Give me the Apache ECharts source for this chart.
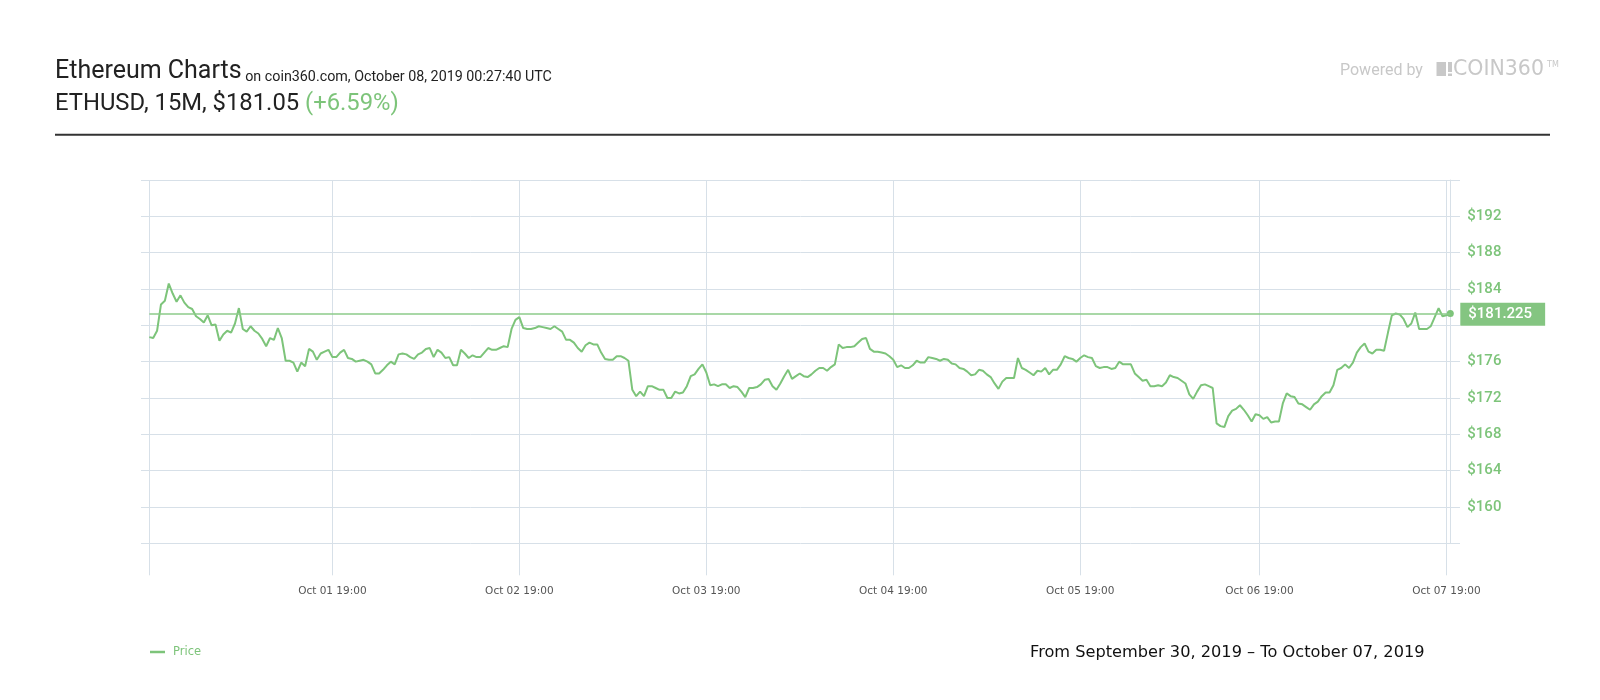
<!DOCTYPE html>
<html><head><meta charset="utf-8">
<script src="https://cdn.jsdelivr.net/npm/echarts@6/dist/echarts.min.js"></script>
<style>html,body{margin:0;padding:0;background:#fff}#c{width:1600px;height:700px}</style>
</head><body><div id="c"></div>
<script>
// ETHUSD price, 30-minute samples
const prices = [
178.7,178.6,179.4,182.3,182.7,184.6,183.5,182.6,183.3,182.5,
182.0,181.8,181.0,180.7,180.3,181.1,180.0,180.1,178.3,179.0,
179.4,179.2,180.2,181.9,179.6,179.3,179.9,179.4,179.1,178.5,
177.7,178.6,178.4,179.7,178.6,176.1,176.1,175.9,174.9,175.9,
175.5,177.4,177.1,176.2,176.9,177.1,177.3,176.5,176.5,177.0,
177.3,176.4,176.3,176.0,176.1,176.2,176.0,175.7,174.7,174.7,
175.1,175.6,176.0,175.7,176.8,176.9,176.8,176.5,176.3,176.8,
177.0,177.4,177.5,176.5,177.3,177.0,176.4,176.5,175.6,175.6,
177.3,176.9,176.4,176.7,176.5,176.5,177.0,177.5,177.3,177.3,
177.5,177.7,177.6,179.6,180.6,180.9,179.7,179.6,179.6,179.7,
179.9,179.8,179.7,179.6,179.9,179.6,179.3,178.4,178.4,178.1,
177.5,177.1,177.8,178.1,177.9,177.9,177.0,176.3,176.2,176.2,
176.6,176.6,176.4,176.1,172.9,172.2,172.7,172.2,173.3,173.3,
173.1,172.9,172.9,172.0,172.0,172.7,172.5,172.6,173.3,174.4,
174.6,175.2,175.7,174.8,173.4,173.5,173.3,173.5,173.5,173.1,
173.3,173.2,172.7,172.1,173.1,173.1,173.2,173.5,174.0,174.1,
173.3,172.9,173.6,174.4,175.1,174.1,174.4,174.7,174.4,174.3,
174.6,175.0,175.3,175.3,175.0,175.4,175.7,177.9,177.5,177.6,
177.6,177.7,178.1,178.5,178.6,177.4,177.1,177.1,177.0,176.9,
176.6,176.2,175.4,175.6,175.3,175.3,175.6,176.1,175.9,175.9,
176.5,176.4,176.3,176.1,176.3,176.2,175.8,175.7,175.3,175.2,
174.9,174.5,174.6,175.1,175.0,174.6,174.3,173.6,173.0,173.8,
174.2,174.2,174.2,176.4,175.3,175.1,174.8,174.5,175.0,174.9,
175.3,174.6,175.1,175.1,175.7,176.6,176.4,176.3,176.0,176.4,
176.7,176.5,176.4,175.5,175.3,175.4,175.4,175.2,175.3,176.0,
175.7,175.7,175.7,174.7,174.3,173.9,174.0,173.3,173.3,173.4,
173.3,173.7,174.5,174.3,174.2,173.9,173.6,172.4,171.9,172.7,
173.4,173.5,173.3,173.1,169.2,168.9,168.8,170.0,170.6,170.8,
171.2,170.7,170.1,169.4,170.2,170.1,169.7,169.9,169.3,169.4,
169.4,171.4,172.5,172.2,172.1,171.4,171.3,171.0,170.7,171.3,
171.6,172.2,172.6,172.6,173.4,175.1,175.3,175.7,175.3,175.9,
177.0,177.6,178.0,177.1,176.9,177.3,177.3,177.2,179.2,181.1,
181.3,181.2,180.7,179.8,180.2,181.4,179.6,179.6,179.6,179.9,
180.9,181.9,181.0,181.1,181.3
];
const tickLabels = ['Oct 01 19:00','Oct 02 19:00','Oct 03 19:00','Oct 04 19:00','Oct 05 19:00','Oct 06 19:00','Oct 07 19:00'];
const startTime = Date.UTC(2019, 8, 30, 19, 30);
const stepMinutes = 30;
const missingSlots = ['Oct 06 12:00','Oct 06 12:30'];
const lastPrice = 181.225;
const yMin = 156, yMax = 196, yStep = 4;
const hiddenYLabels = [156, 180, 196];

const MONTHS = ['Jan','Feb','Mar','Apr','May','Jun','Jul','Aug','Sep','Oct','Nov','Dec'];
const pad = n => String(n).padStart(2, '0');
const categories = [];
for (let t = startTime; categories.length < prices.length; t += stepMinutes * 60000) {
  const d = new Date(t);
  const s = MONTHS[d.getUTCMonth()] + ' ' + pad(d.getUTCDate()) + ' ' + pad(d.getUTCHours()) + ':' + pad(d.getUTCMinutes());
  if (missingSlots.includes(s)) continue;
  categories.push(s);
}

const GRID = '#d7e0e8';
const GREEN = '#7dc47a';
const chart = echarts.init(document.getElementById('c'));
const isTick = (i, v) => i === 0 || tickLabels.includes(v);
const lastIdx = prices.length - 1;

chart.setOption({
  animation: false,
  backgroundColor: '#fff',
  grid: [
    { left: 149.3, right: 149.7, top: 180, bottom: 156.7 },
    { left: 141, right: 140, top: 180, bottom: 156.7 }
  ],
  xAxis: [
    {
      type: 'category', gridIndex: 0, data: categories, boundaryGap: false,
      axisLine: { show: false },
      axisTick: { show: true, interval: isTick, length: 32, lineStyle: { color: GRID } },
      splitLine: { show: true, interval: isTick, lineStyle: { color: GRID, width: 1 } },
      axisLabel: { interval: (i, v) => tickLabels.includes(v), color: '#555', fontFamily: 'DejaVu Sans', fontSize: 10.5, margin: 42 }
    },
    { type: 'value', gridIndex: 1, show: false, min: 0, max: 1 }
  ],
  yAxis: [
    {
      type: 'value', gridIndex: 0, position: 'right', min: yMin, max: yMax, interval: yStep,
      axisLine: { show: true, lineStyle: { color: GRID } },
      axisTick: { show: false },
      splitLine: { show: false },
      axisLabel: {
        margin: 17, color: GREEN, fontFamily: 'Roboto', fontSize: 15, fontWeight: 500,
        padding: [4, 0, 0, 0],
        formatter: v => hiddenYLabels.includes(v) ? '' : '$' + v
      }
    },
    {
      type: 'value', gridIndex: 1, min: yMin, max: yMax, interval: yStep,
      axisLine: { show: false }, axisTick: { show: false }, axisLabel: { show: false },
      splitLine: { show: true, lineStyle: { color: GRID, width: 1 } }
    }
  ],
  legend: {
    left: 150, top: 646, padding: 0, icon: 'rect', itemWidth: 15, itemHeight: 2.5,
    textStyle: { color: GREEN, fontFamily: 'DejaVu Sans', fontSize: 11.5, padding: [0, 0, 0, 3] },
    data: ['Price']
  },
  series: [{
    name: 'Price', type: 'line', xAxisIndex: 0, yAxisIndex: 0,
    data: prices,
    showSymbol: true, symbol: 'circle',
    symbolSize: (v, p) => p.dataIndex === lastIdx ? 7 : 0,
    lineStyle: { color: GREEN, width: 2 },
    itemStyle: { color: GREEN },
    markLine: {
      silent: true, symbol: 'none', animation: false,
      lineStyle: { color: '#8dcb8a', width: 1.5, type: 'solid' },
      label: {
        position: 'end', distance: 10, formatter: '$' + lastPrice,
        color: '#fff', backgroundColor: '#84c581', fontFamily: 'Roboto', fontSize: 15, fontWeight: 500,
        padding: [4, 13, 4, 8]
      },
      data: [{ yAxis: lastPrice }]
    }
  }],
  graphic: [
    { type: 'text', x: 55, y: 72, style: {
        text: '{a|Ethereum Charts} {b|on coin360.com, October 08, 2019 00:27:40 UTC}',
        font: '14.3px Roboto', fill: '#222', verticalAlign: 'middle', textVerticalAlign: 'middle',
        rich: {
          a: { fontFamily: 'Roboto', fontSize: 25, fill: '#222', lineHeight: 25, verticalAlign: 'bottom' },
          b: { fontFamily: 'Roboto', fontSize: 14.3, fill: '#222', lineHeight: 14.3, verticalAlign: 'bottom' }
        } } },
    { type: 'text', x: 55, y: 104, style: {
        text: '{a|ETHUSD, 15M, $181.05} {b|(+6.59%)}',
        font: '23.8px Roboto', fill: '#222', verticalAlign: 'middle', textVerticalAlign: 'middle',
        rich: {
          a: { fontFamily: 'Roboto', fontSize: 23.8, fill: '#222' },
          b: { fontFamily: 'Roboto', fontSize: 23.8, fill: GREEN }
        } } },
    { type: 'line', shape: { x1: 55, y1: 134.7, x2: 1550, y2: 134.7 }, style: { stroke: '#333', lineWidth: 2 } },
    { type: 'text', x: 1340, y: 71, style: { text: 'Powered by', font: '16px Roboto', fill: '#c8c8c8', verticalAlign: 'middle', textVerticalAlign: 'middle' } },
    { type: 'rect', shape: { x: 1436.5, y: 62, width: 9.5, height: 14 }, style: { fill: '#c8c8c8' } },
    { type: 'rect', shape: { x: 1448, y: 62, width: 4, height: 10 }, style: { fill: '#c8c8c8' } },
    { type: 'rect', shape: { x: 1448, y: 73.5, width: 4, height: 2.5 }, style: { fill: '#c8c8c8' } },
    { type: 'text', x: 1453, y: 70, style: { text: 'COIN360', font: '20.5px "DejaVu Sans"', fill: '#c8c8c8', verticalAlign: 'middle', textVerticalAlign: 'middle' } },
    { type: 'text', x: 1547, y: 65, style: { text: 'TM', font: '8px "DejaVu Sans"', fill: '#c8c8c8', verticalAlign: 'middle', textVerticalAlign: 'middle' } },
    { type: 'text', x: 1030, y: 653, style: { text: 'From September 30, 2019 – To October 07, 2019', font: '16.2px "DejaVu Sans"', fill: '#111', verticalAlign: 'middle', textVerticalAlign: 'middle' } }
  ]
});
</script></body></html>
